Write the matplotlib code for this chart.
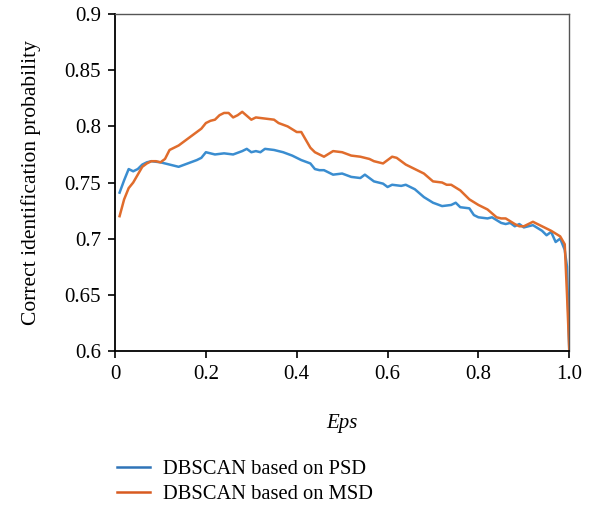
import numpy as np
import matplotlib.pyplot as plt

plt.rcParams['font.family'] = ['Liberation Serif', 'DejaVu Serif']

# Eps values and identification rates for both methods
eps_psd = [0.01, 0.02, 0.03, 0.04, 0.05, 0.06, 0.07, 0.08, 0.10, 0.12, 0.14, 0.16,
           0.18, 0.19, 0.20, 0.22, 0.24, 0.26, 0.28, 0.29, 0.30, 0.31, 0.32, 0.33,
           0.35, 0.37, 0.39, 0.41, 0.43, 0.44, 0.45, 0.46, 0.48, 0.50, 0.52, 0.54,
           0.55, 0.57, 0.59, 0.60, 0.61, 0.63, 0.64, 0.66, 0.68, 0.70, 0.72, 0.74,
           0.75, 0.76, 0.78, 0.79, 0.80, 0.82, 0.83, 0.85, 0.86, 0.87, 0.88, 0.89,
           0.90, 0.92, 0.94, 0.95, 0.96, 0.97, 0.98, 0.99, 0.995, 1.0]
psd = [0.741, 0.752, 0.762, 0.760, 0.762, 0.766, 0.768, 0.769, 0.768, 0.766, 0.764, 0.767,
       0.770, 0.772, 0.777, 0.775, 0.776, 0.775, 0.778, 0.780, 0.777, 0.778, 0.777, 0.780,
       0.779, 0.777, 0.774, 0.770, 0.767, 0.762, 0.761, 0.761, 0.757, 0.758, 0.755, 0.754,
       0.757, 0.751, 0.749, 0.746, 0.748, 0.747, 0.748, 0.744, 0.737, 0.732, 0.729, 0.730,
       0.732, 0.728, 0.727, 0.721, 0.719, 0.718, 0.719, 0.714, 0.713, 0.714, 0.711, 0.713,
       0.710, 0.712, 0.707, 0.703, 0.706, 0.697, 0.700, 0.690, 0.675, 0.600]

eps_msd = [0.01, 0.02, 0.03, 0.04, 0.05, 0.06, 0.07, 0.08, 0.09, 0.10, 0.11, 0.12,
           0.13, 0.14, 0.16, 0.18, 0.19, 0.20, 0.21, 0.22, 0.23, 0.24, 0.25, 0.26,
           0.27, 0.28, 0.30, 0.31, 0.33, 0.35, 0.36, 0.38, 0.40, 0.41, 0.43, 0.44,
           0.46, 0.48, 0.50, 0.52, 0.54, 0.56, 0.57, 0.59, 0.60, 0.61, 0.62, 0.64,
           0.66, 0.68, 0.70, 0.72, 0.73, 0.74, 0.76, 0.78, 0.80, 0.82, 0.84, 0.85,
           0.86, 0.88, 0.89, 0.90, 0.91, 0.92, 0.94, 0.96, 0.98, 0.99, 0.995, 1.0]
msd = [0.720, 0.735, 0.745, 0.750, 0.757, 0.764, 0.767, 0.769, 0.769, 0.768, 0.771, 0.779,
       0.781, 0.783, 0.789, 0.795, 0.798, 0.803, 0.805, 0.806, 0.810, 0.812, 0.812, 0.808,
       0.810, 0.813, 0.806, 0.808, 0.807, 0.806, 0.803, 0.800, 0.795, 0.795, 0.781, 0.777,
       0.773, 0.778, 0.777, 0.774, 0.773, 0.771, 0.769, 0.767, 0.770, 0.773, 0.772, 0.766,
       0.762, 0.758, 0.751, 0.750, 0.748, 0.748, 0.743, 0.735, 0.730, 0.726, 0.719, 0.718,
       0.718, 0.713, 0.711, 0.711, 0.713, 0.715, 0.711, 0.707, 0.702, 0.695, 0.650, 0.600]

fig = plt.figure(figsize=(5.93, 5.07), dpi=100)
ax = fig.add_axes([0.194, 0.308, 0.766, 0.664])

ax.plot(eps_psd, psd, color='#3a8dd0', lw=1.8, label='DBSCAN based on PSD')
ax.plot(eps_msd, msd, color='#e06c2c', lw=1.8, label='DBSCAN based on MSD')

ax.set_xlim(0, 1.0)
ax.set_ylim(0.6, 0.9)
ax.set_xticks([0, 0.2, 0.4, 0.6, 0.8, 1.0])
ax.set_xticklabels(['0', '0.2', '0.4', '0.6', '0.8', '1.0'])
ax.set_yticks([0.6, 0.65, 0.7, 0.75, 0.8, 0.85, 0.9])
ax.set_yticklabels(['0.6', '0.65', '0.7', '0.75', '0.8', '0.85', '0.9'])
ax.tick_params(direction='out', length=5, width=1.2, labelsize=15, pad=5)
for side in ['left', 'bottom']:
    ax.spines[side].set_linewidth(1.3)
for side in ['top', 'right']:
    ax.spines[side].set_linewidth(1.0)
    ax.spines[side].set_color('#555555')

ax.set_xlabel('Eps', fontsize=15, style='italic', labelpad=22)
ax.set_ylabel('Correct identification probability', fontsize=15.5, labelpad=17)

leg = fig.legend(loc='upper left', bbox_to_anchor=(0.197, 0.094), frameon=False,
                 fontsize=14.8, handlelength=1.6, handletextpad=0.65, labelspacing=0.3,
                 borderpad=0, borderaxespad=0)
leg.legend_handles[0].set_color('#2f74b8')
leg.legend_handles[1].set_color('#d85a20')

fig.savefig('out.png', dpi=100)
